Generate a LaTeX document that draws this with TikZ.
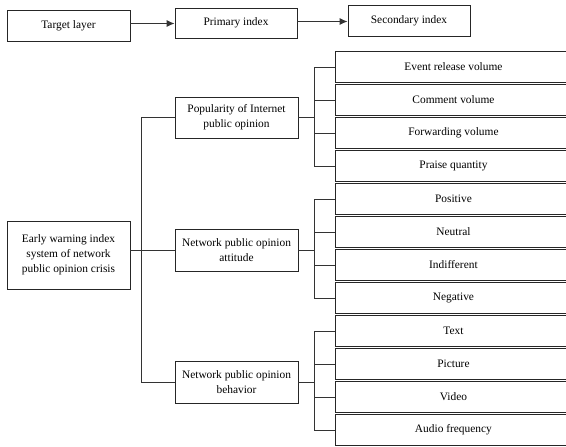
\documentclass[tikz,border=0pt]{standalone}
\usepackage{fontspec}
\setmainfont{Liberation Serif}
\usetikzlibrary{arrows.meta}
\tikzset{
  box/.style={draw=black!85, line width=0.9pt, inner sep=0pt, align=center,
    font=\fontsize{11.4}{15}\selectfont},
  link/.style={draw=black!80, line width=0.9pt},
}
\begin{document}
\begin{tikzpicture}[x=1pt,y=-1pt]
    \useasboundingbox (0,0) rectangle (566,447);
    % top row
    \node[box, minimum width=123pt, minimum height=31pt] (target) at (68.5,25.5) {Target layer};
    \node[box, minimum width=122pt, minimum height=30pt] (primary) at (236,23) {Primary index};
    \node[box, minimum width=122pt, minimum height=31pt] (secondary) at (409,20.5) {Secondary index};
    \draw[link,-{Latex[length=8pt,width=7pt]}] (target.east |- 0,23.5) -- (primary.west |- 0,23.5);
    \draw[link,-{Latex[length=8pt,width=7pt]}] (primary.east |- 0,21.5) -- (secondary.west |- 0,21.5);
    % root and primary indices
    \node[box, minimum width=123pt, minimum height=68pt] (root) at (68.5,255)
      {Early warning index\\system of network\\public opinion crisis};
    \node[box, minimum width=123pt, minimum height=41pt] (m1) at (236.5,117.5) {Popularity of Internet\\public opinion};
    \node[box, minimum width=123pt, minimum height=42pt] (m2) at (236.5,250) {Network public opinion\\attitude};
    \node[box, minimum width=123pt, minimum height=42pt] (m3) at (236.5,382) {Network public opinion\\behavior};
    \coordinate (trunk) at (141,0);
    \draw[link] (root.east |- m2) -- (m2.west);
    \foreach \m in {1,3}
      \draw[link] (m\m.west) -- (trunk |- m\m) ;
    \draw[link] (trunk |- m1) -- (trunk |- m3);
    % secondary indices
    \foreach \t [count=\k from 0] in {Event release volume,Comment volume,Forwarding volume,Praise quantity,
        Positive,Neutral,Indifferent,Negative,Text,Picture,Video,Audio frequency}
      \node[box, minimum width=236pt, minimum height=31pt, anchor=west] (s\k) at (335,67+33*\k) {\t};
    \coordinate (bus) at (314,0);
    \foreach \m/\a/\b in {1/0/3,2/4/7,3/8/11} {
      \draw[link] (m\m.east) -- (bus |- m\m);
      \draw[link] (bus |- s\a) -- (bus |- s\b);
      \foreach \k in {\a,...,\b}
        \draw[link] (bus |- s\k) -- (s\k.west);
    }
  \end{tikzpicture}
\end{document}
